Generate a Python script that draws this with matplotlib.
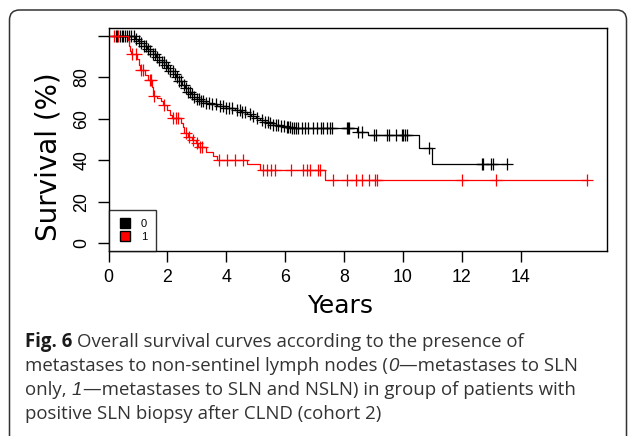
import numpy as np
import matplotlib
matplotlib.use("Agg")
import matplotlib.pyplot as plt
from matplotlib.lines import Line2D
from matplotlib.patches import FancyBboxPatch
from matplotlib.transforms import IdentityTransform

# group 0: metastases to SLN only (black)
step_t0 = [0.9, 1.0, 1.1, 1.2, 1.3, 1.4, 1.5, 1.6, 1.7, 1.8, 1.9, 2.0, 2.1, 2.2, 2.3,
           2.4, 2.5, 2.6, 2.7, 2.8, 2.9, 3.0, 3.15, 3.3, 3.45, 3.7, 4.0, 4.3, 4.5, 4.7,
           4.85, 5.0, 5.15, 5.3, 5.45, 5.6, 5.8, 6.0, 6.2, 8.45, 8.8, 10.55, 10.97]
step_s0 = [98.5, 97.5, 96.3, 95, 93.7, 92.4, 91, 89.6, 88.4, 87.2, 86, 84.6, 83.2, 81.7, 80,
           78.2, 76.4, 74.7, 73.1, 71.8, 70.6, 69.6, 68.6, 67.7, 67, 66.2, 65.3, 64.3, 63.3, 62.3,
           61.3, 60.3, 59.4, 58.6, 57.8, 57, 56.3, 55.8, 55.4, 53.8, 52.2, 46.1, 38.3]
cens_t0 = [0.25, 0.3, 0.38, 0.45, 0.5, 0.55, 0.62, 0.7, 0.78, 0.85, 0.95, 1.05, 1.12, 1.2,
           1.28, 1.35, 1.42, 1.5, 1.58, 1.65, 1.72, 1.8, 1.88, 1.95, 2.02, 2.1, 2.18, 2.25,
           2.32, 2.4, 2.47, 2.55, 2.62, 2.7, 2.78, 2.85, 2.92, 3.0, 3.08, 3.15, 3.22, 3.3,
           3.4, 3.5, 3.65, 3.8, 3.9, 4.0, 4.1, 4.2, 4.35, 4.45, 4.55, 4.65, 4.8, 4.9, 5.05,
           5.2, 5.3, 5.4, 5.5, 5.6, 5.7, 5.75, 5.85, 5.95, 6.05, 6.1, 6.15, 6.22, 6.3, 6.38,
           6.45, 6.56, 6.67, 6.79, 6.95, 7.09, 7.21, 7.29, 7.41, 7.52, 7.58, 8.09, 8.14,
           8.18, 8.48, 8.6, 9.02, 9.08, 9.47, 9.54, 9.76, 9.96, 10.01, 10.08, 10.15, 10.9,
           12.67, 12.72, 13.0, 13.07, 13.55]

# group 1: metastases to SLN and NSLN (red)
step_t1 = [0.66, 0.7, 0.74, 0.78, 0.98, 1.03, 1.08, 1.25, 1.33, 1.48, 1.52, 1.65, 1.77,
           1.85, 2.0, 2.1, 2.17, 2.45, 2.52, 2.58, 2.7, 2.82, 2.96, 3.05, 3.3, 3.55, 3.68,
           4.7, 5.15, 7.35]
step_s1 = [98, 95, 92.5, 91, 89, 86, 83.5, 81, 78.5, 75.5, 71, 70, 68.5,
           66.5, 64.2, 62, 60.2, 58, 56, 53, 51.4, 49.8, 48.2, 46.6, 44.2, 42.2, 40.2,
           38.2, 35.3, 30.3]
cens_t1 = [0.2, 0.33, 0.81, 0.95, 1.11, 1.18, 1.4, 1.45, 1.55, 1.9, 2.2, 2.3, 2.37, 2.62,
           2.75, 2.88, 3.0, 3.1, 3.18, 3.74, 4.01, 4.29, 4.56, 5.24, 5.37, 5.51, 5.65, 6.19,
           6.61, 6.73, 6.84, 7.13, 7.18, 7.63, 8.09, 8.4, 8.6, 8.85, 9.05, 9.13, 12.0,
           13.16, 16.26]

groups = ["0", "1"]
colors = ["black", "#ff0000"]

W, H = 629, 436
fig = plt.figure(figsize=(W / 100, H / 100), dpi=100)
ax = fig.add_axes([108.5 / W, 1 - 251 / H, (606.7 - 108.5) / W, (251 - 27.7) / H])

for st, ss, ct, c in [(step_t0, step_s0, cens_t0, colors[0]),
                      (step_t1, step_s1, cens_t1, colors[1])]:
    xs = np.array([0] + st + [max(ct)])
    ys = np.array([100] + ss + [ss[-1]])
    ax.step(xs, ys, where="post", color=c, lw=0.9)
    idx = np.searchsorted(xs[:-1], ct, side="right") - 1
    ax.plot(ct, ys[idx], "+", color=c, ms=9, mew=0.9, linestyle="none")

ax.set_xlim(0, 16.92)
ax.set_ylim(-3.71, 103.85)
ax.set_xticks(range(0, 15, 2))
ax.set_yticks(range(0, 101, 20))
ax.set_yticklabels(["0", "20", "40", "60", "80", ""])
for sp in ax.spines.values():
    sp.set_linewidth(1.0)
ax.tick_params(length=8, width=1.0, labelsize=12.8, pad=5)
ax.tick_params(axis="y", labelrotation=90)
for lab in ax.get_xticklabels() + ax.get_yticklabels():
    lab.set_family("Liberation Sans")
for lab in ax.get_yticklabels():
    lab.set_va("center")

handles = [Line2D([], [], marker="s", color=c, markeredgecolor="black", ms=6.5,
                  linestyle="none") for c in colors]
leg = ax.legend(handles, groups, loc="lower left", bbox_to_anchor=(0, 0), borderaxespad=0,
                fancybox=False, edgecolor="black", handlelength=1.3,
                handletextpad=0.8, borderpad=0.8, labelspacing=0.3,
                prop={"family": "Liberation Sans", "size": 8})
leg.get_frame().set_linewidth(1.0)

fig.text(340 / W, 1 - 313 / H, "Years", ha="center", va="baseline", fontsize=18,
         family="DejaVu Sans")
fig.text(49 / W, 1 - 157 / H, "Survival (%)", ha="center", va="center", rotation=90,
         fontsize=20, family="DejaVu Sans")

# caption, drawn piece by piece for the bold / italic parts
cap_size = 13.4
gap = 0.26 * cap_size * 100 / 72
reg = dict(family="Open Sans", color="#333333", fontsize=cap_size)
caption = [
    [("Fig. 6", dict(family="Open Sans", weight="bold", color="#1a1a1a", fontsize=cap_size), gap),
     ("Overall survival curves according to the presence of", reg, 0)],
    [("metastases to non-sentinel lymph nodes (", reg, 0),
     ("0", dict(family="Liberation Sans", style="italic", color="#333333", fontsize=cap_size), 1),
     ("—metastases to SLN", reg, 0)],
    [("only,", reg, gap),
     ("1", dict(family="Liberation Sans", style="italic", color="#333333", fontsize=cap_size), 1),
     ("—metastases to SLN and NSLN) in group of patients with", reg, 0)],
    [("positive SLN biopsy after CLND (cohort 2)", reg, 0)],
]
baselines = [347, 371, 395, 419]
renderer = fig.canvas.get_renderer()
for pieces, yb in zip(caption, baselines):
    x = 25.0
    for txt, kw, after in pieces:
        t = fig.text(x / W, 1 - yb / H, txt, ha="left", va="baseline", **kw)
        x = t.get_window_extent(renderer).x1 + after

box = FancyBboxPatch((9.5, -30), 617, 456, boxstyle="round,pad=0,rounding_size=10",
                     transform=IdentityTransform(), fill=False, edgecolor="#333333", lw=1.1)
fig.patches.append(box)

fig.savefig("out.png", dpi=100)
